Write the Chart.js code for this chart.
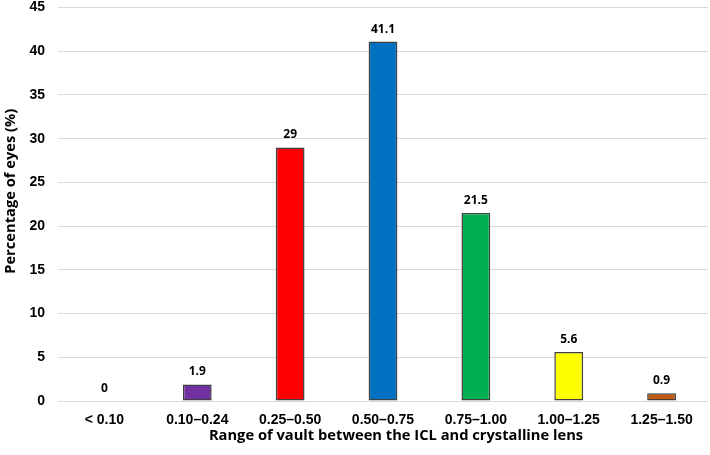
<!DOCTYPE html>
<html>
<head>
<meta charset="utf-8">
<script src="https://cdn.jsdelivr.net/npm/chart.js@4"></script>
<style>
  html, body { margin: 0; padding: 0; background: #fff; }
  #wrap { width: 710px; height: 455px; }
</style>
</head>
<body>
<div id="wrap"><canvas id="myChart"></canvas></div>
<script>
const categories = ["< 0.10", "0.10\u20130.24", "0.25\u20130.50", "0.50\u20130.75", "0.75\u20131.00", "1.00\u20131.25", "1.25\u20131.50"];
const percentEyes = [0, 1.9, 29, 41.1, 21.5, 5.6, 0.9];
const barColors = ["#7030A0", "#7030A0", "#FF0000", "#0070C0", "#00B050", "#FFFF00", "#C55A11"];
const xTitle = "Range of vault between the ICL and crystalline lens";
const yTitle = "Percentage of eyes (%)";

const titleFont = "'Open Sans', sans-serif";

// value labels above bars + axis titles (placed like the excel original)
const labelsPlugin = {
  id: "labelsPlugin",
  afterDatasetsDraw(chart) {
    const ctx = chart.ctx;
    const area = chart.chartArea;
    const meta = chart.getDatasetMeta(0);
    ctx.save();
    ctx.fillStyle = "#000";
    ctx.textAlign = "center";
    ctx.textBaseline = "middle";
    ctx.font = "bold 12px " + titleFont;
    meta.data.forEach((bar, i) => {
      ctx.fillText(String(percentEyes[i]), bar.x, bar.y - 12.5);
    });

    ctx.font = "bold 14.7px " + titleFont;
    ctx.fillText(xTitle, (area.left + area.right) / 2 + 13, 436);

    ctx.translate(11, (area.top + area.bottom) / 2 - 13);
    ctx.rotate(-Math.PI / 2);
    ctx.fillText(yTitle, 0, 0);
    ctx.restore();
  },
};

const ctx = document.getElementById("myChart");

const chart = new Chart(ctx, {
  type: "bar",
  data: {
    labels: categories,
    datasets: [
      {
        data: percentEyes,
        backgroundColor: barColors,
        borderColor: "#404040",
        borderWidth: 1.5,
        borderSkipped: false,
        categoryPercentage: 1,
        barPercentage: 0.31,
      },
    ],
  },
  options: {
    responsive: true,
    maintainAspectRatio: false,
    animation: false,
    layout: { padding: { top: 7.5, right: 2, left: 0, bottom: 0 } },
    plugins: {
      legend: { display: false },
      tooltip: { enabled: false },
    },
    scales: {
      x: {
        grid: { display: false, drawTicks: false },
        border: { display: false },
        afterFit(scale) { scale.height = 54; },
        ticks: {
          color: "#000",
          padding: 11,
          font: { family: "'Liberation Sans', Arial, sans-serif", size: 14, weight: "bold" },
        },
      },
      y: {
        min: 0,
        max: 45,
        afterFit(scale) { scale.width = 58; scale.paddingTop = 0; },
        ticks: {
          stepSize: 5,
          color: "#000",
          padding: 13,
          font: { family: "'Liberation Sans', Arial, sans-serif", size: 14, weight: "bold" },
        },
        grid: { color: "#d9d9d9", lineWidth: 1, drawTicks: false },
        border: { display: false },
      },
    },
  },
  plugins: [labelsPlugin],
});
</script>
</body>
</html>
